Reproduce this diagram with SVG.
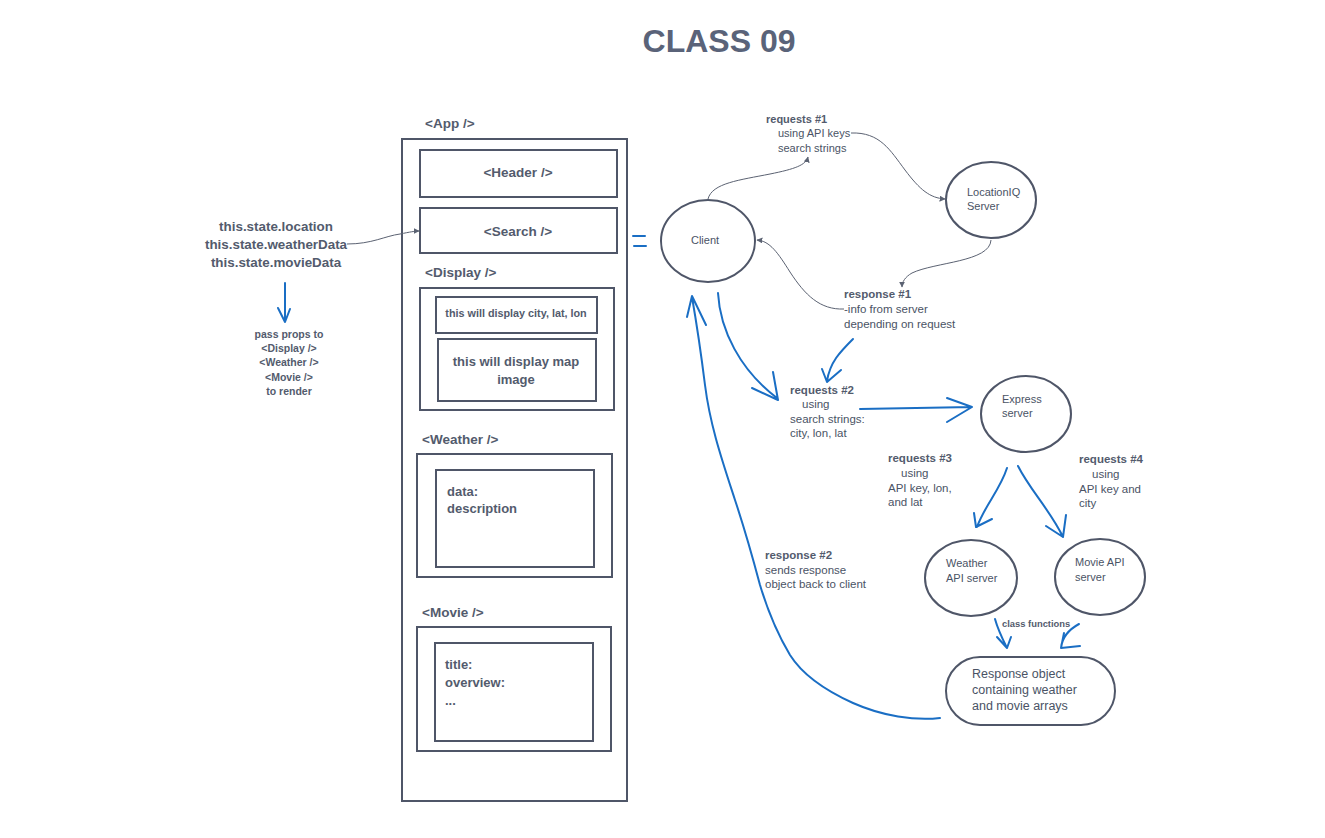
<svg xmlns="http://www.w3.org/2000/svg" width="1325" height="838" viewBox="0 0 1325 838">
<style>
  text { font-family: "Liberation Sans", Arial, sans-serif; fill: #4a5365; }
  .b { font-weight: bold; fill: #535b6d; }
  .box { fill: none; stroke: #4f5668; stroke-width: 2; }
  .thin { fill: none; stroke: #5b6272; stroke-width: 1; }
  .blue { fill: none; stroke: #1a6ec4; stroke-width: 2; stroke-linecap: round; stroke-linejoin: round; }
  .lbl { font-size: 11.5px; }
</style>
<defs>
  <marker id="tri" viewBox="0 0 10 10" refX="9" refY="5" markerWidth="6" markerHeight="6" orient="auto" markerUnits="userSpaceOnUse">
    <path d="M0,0 L10,5 L0,10 z" fill="#5b6272"/>
  </marker>
</defs>
<rect width="1325" height="838" fill="#ffffff"/>

<text id="title" x="719" y="52" text-anchor="middle" class="b" style="font-size:32px;fill:#5a6379">CLASS 09</text>

<g id="app">
  <text x="425" y="128" class="b" style="font-size:13.5px">&lt;App /&gt;</text>
  <rect class="box" x="402" y="139" width="225" height="662"/>
</g>
<g id="header">
  <rect class="box" x="420" y="150" width="197" height="47"/>
  <text x="518" y="177" text-anchor="middle" class="b" style="font-size:13.5px">&lt;Header /&gt;</text>
</g>
<g id="search">
  <rect class="box" x="420" y="208" width="197" height="45"/>
  <text x="518" y="236" text-anchor="middle" class="b" style="font-size:13.5px">&lt;Search /&gt;</text>
</g>
<g id="display">
  <text x="425" y="277" class="b" style="font-size:13.5px">&lt;Display /&gt;</text>
  <rect class="box" x="420" y="288" width="194" height="122"/>
</g>
<g id="display-city">
  <rect class="box" x="436" y="297" width="161" height="36"/>
  <text x="516" y="317" text-anchor="middle" class="b" style="font-size:10.8px">this will display city, lat, lon</text>
</g>
<g id="display-map">
  <rect class="box" x="438" y="339" width="158" height="62"/>
  <text x="516" y="366" text-anchor="middle" class="b" style="font-size:13px">this will display map</text>
  <text x="516" y="384" text-anchor="middle" class="b" style="font-size:13px">image</text>
</g>
<g id="weather">
  <text x="422" y="444" class="b" style="font-size:13.5px">&lt;Weather /&gt;</text>
  <rect class="box" x="417" y="454" width="195" height="123"/>
</g>
<g id="weather-data">
  <rect class="box" x="436" y="470" width="158" height="97"/>
  <text x="447" y="496" class="b" style="font-size:13px">data:</text>
  <text x="447" y="513" class="b" style="font-size:13px">description</text>
</g>
<g id="movie">
  <text x="422" y="617" class="b" style="font-size:13.5px">&lt;Movie /&gt;</text>
  <rect class="box" x="417" y="627" width="194" height="124"/>
</g>
<g id="movie-data">
  <rect class="box" x="435" y="643" width="158" height="98"/>
  <text x="445" y="669" class="b" style="font-size:13px">title:</text>
  <text x="445" y="687" class="b" style="font-size:13px">overview:</text>
  <text x="445" y="705" class="b" style="font-size:13px">...</text>
</g>

<g id="state">
  <text x="276" y="231" text-anchor="middle" class="b" style="font-size:13.4px">this.state.location</text>
  <text x="276" y="249" text-anchor="middle" class="b" style="font-size:13.4px">this.state.weatherData</text>
  <text x="276" y="267" text-anchor="middle" class="b" style="font-size:13.4px">this.state.movieData</text>
</g>
<g id="pass-props">
  <text x="289" y="338" text-anchor="middle" class="b" style="font-size:10.5px">pass props to</text>
  <text x="289" y="352" text-anchor="middle" class="b" style="font-size:10.5px">&lt;Display /&gt;</text>
  <text x="289" y="366" text-anchor="middle" class="b" style="font-size:10.5px">&lt;Weather /&gt;</text>
  <text x="289" y="381" text-anchor="middle" class="b" style="font-size:10.5px">&lt;Movie /&gt;</text>
  <text x="289" y="395" text-anchor="middle" class="b" style="font-size:10.5px">to render</text>
</g>

<g id="client">
  <ellipse class="box" cx="708" cy="241" rx="47" ry="41"/>
  <text x="705" y="244" text-anchor="middle" style="font-size:11px">Client</text>
</g>
<g id="locationiq">
  <ellipse class="box" cx="991" cy="200" rx="45" ry="38"/>
  <text x="967" y="196" style="font-size:11px">LocationIQ</text>
  <text x="967" y="210" style="font-size:11px">Server</text>
</g>
<g id="express">
  <ellipse class="box" cx="1026" cy="414" rx="45" ry="38"/>
  <text x="1002" y="403" style="font-size:11px">Express</text>
  <text x="1002" y="417" style="font-size:11px">server</text>
</g>
<g id="weather-api">
  <ellipse class="box" cx="971" cy="578" rx="46" ry="38"/>
  <text x="946" y="567" style="font-size:11px">Weather</text>
  <text x="946" y="582" style="font-size:11px">API server</text>
</g>
<g id="movie-api">
  <ellipse class="box" cx="1100" cy="577" rx="45" ry="38"/>
  <text x="1075" y="566" style="font-size:11px">Movie API</text>
  <text x="1075" y="581" style="font-size:11px">server</text>
</g>
<g id="response-object">
  <rect class="box" x="946" y="657" width="169" height="68" rx="34"/>
  <text x="972" y="678" style="font-size:12.5px">Response object</text>
  <text x="972" y="694" style="font-size:12.5px">containing weather</text>
  <text x="972" y="710" style="font-size:12.5px">and movie arrays</text>
</g>

<g id="labels">
  <text x="766" y="123" class="b" style="font-size:11px">requests #1</text>
  <text x="778" y="137" style="font-size:11px">using API keys</text>
  <text x="778" y="152" style="font-size:11px">search strings</text>

  <text x="844" y="298" class="b lbl">response #1</text>
  <text x="844" y="313" class="lbl">-info from server</text>
  <text x="844" y="328" class="lbl">depending on request</text>

  <text x="790" y="394" class="b lbl">requests #2</text>
  <text x="802" y="408" class="lbl">using</text>
  <text x="790" y="423" class="lbl">search strings:</text>
  <text x="790" y="437" class="lbl">city, lon, lat</text>

  <text x="888" y="462" class="b lbl">requests #3</text>
  <text x="901" y="477" class="lbl">using</text>
  <text x="888" y="492" class="lbl">API key, lon,</text>
  <text x="888" y="506" class="lbl">and lat</text>

  <text x="1079" y="463" class="b lbl">requests #4</text>
  <text x="1092" y="478" class="lbl">using</text>
  <text x="1079" y="493" class="lbl">API key and</text>
  <text x="1079" y="507" class="lbl">city</text>

  <text x="765" y="559" class="b lbl">response #2</text>
  <text x="765" y="574" class="lbl">sends response</text>
  <text x="765" y="588" class="lbl">object back to client</text>

  <text x="1002" y="627" class="b" style="font-size:9.4px">class functions</text>
</g>

<g id="connectors">
  <path class="thin" marker-end="url(#tri)" d="M347,244 C 372,244 385,236 400,234 C 410,232 415,231 419,231"/>
  <path class="thin" marker-end="url(#tri)" d="M708,199 C 712,183 740,180 770,174 C 795,169 806,165 808,157"/>
  <path class="thin" marker-end="url(#tri)" d="M851,133 C 880,132 890,150 905,170 C 920,190 930,198 945,199"/>
  <path class="thin" marker-end="url(#tri)" d="M991,240 C 990,262 935,262 912,273 C 905,277 902,282 902,287"/>
  <path class="thin" marker-end="url(#tri)" d="M844,309 C 820,310 805,295 790,272 C 778,253 770,241 757,240"/>

  <path class="blue" d="M285,283 L285,322 M278,308 L285,322 L290,309"/>
  <path class="blue" d="M633,236 L645,236 M634,246 L646,246"/>
  <path class="blue" d="M940,718 C 915,721 882,716 853,703 C 822,689 802,674 790,655 C 774,628 766,605 760,585 C 752,555 745,530 735,500 C 722,460 710,425 705,385 C 700,345 696,320 692,297 M687,317 L692,296 L706,325"/>
  <path class="blue" d="M718,293 C 720,330 740,370 777,398 M752,388 L778,400 L773,372"/>
  <path class="blue" d="M853,339 C 840,352 830,362 827,381 M822,369 L827,382 L841,370"/>
  <path class="blue" d="M860,409 L972,407 M947,398 L972,407 L947,422"/>
  <path class="blue" d="M1007,468 C 1000,490 985,505 977,527 M974,513 L976,527 L992,519"/>
  <path class="blue" d="M1018,466 C 1030,490 1050,510 1063,537 M1046,526 L1063,537 L1066,515"/>
  <path class="blue" d="M995,619 C 998,630 1003,640 1007,648 M997,637 L1007,648 L1011,637"/>
  <path class="blue" d="M1079,624 C 1068,630 1062,638 1061,648 M1064,633 L1061,648 L1080,646"/>
</g>
</svg>
